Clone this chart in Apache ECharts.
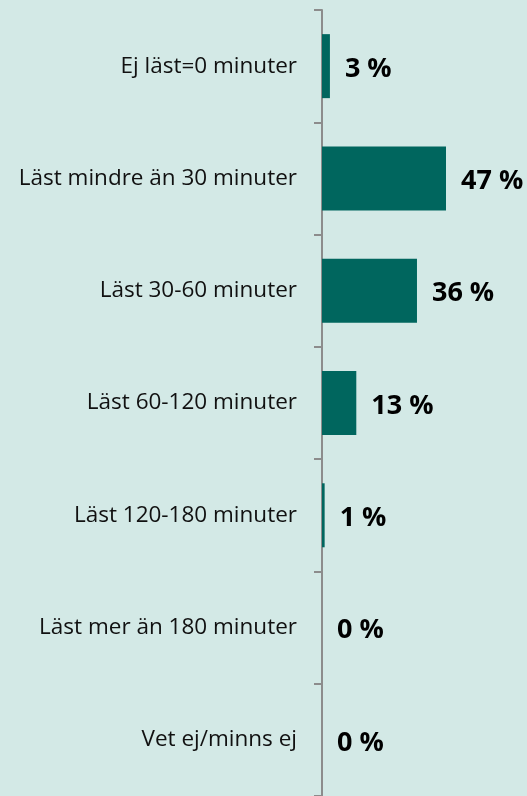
<!DOCTYPE html>
<html><head><meta charset="utf-8">
<script src="https://cdn.jsdelivr.net/npm/echarts@6/dist/echarts.min.js"></script>
<style>html,body{margin:0;padding:0;background:#d3e9e6;}#c{width:527px;height:796px;}</style>
</head><body><div id="c"></div>
<script>
const categories = ["Ej läst=0 minuter","Läst mindre än 30 minuter","Läst 30-60 minuter","Läst 60-120 minuter","Läst 120-180 minuter","Läst mer än 180 minuter","Vet ej/minns ej"];
const values = [3, 47, 36, 13, 1, 0, 0];
const chart = echarts.init(document.getElementById('c'));
chart.setOption({
  backgroundColor: '#d3e9e6',
  animation: false,
  grid: {left: 322, right: 0, top: 10, bottom: 0, containLabel: false},
  xAxis: {type: 'value', min: 0, max: 77.7, show: false},
  yAxis: {
    type: 'category', data: categories, inverse: true,
    axisLine: {lineStyle: {color: '#8c8c8c', width: 2}},
    axisTick: {show: true, length: 8, lineStyle: {color: '#8c8c8c', width: 2}},
    axisLabel: {margin: 25, color: '#111', fontFamily: '"Open Sans", sans-serif', fontSize: 22.5, padding: [6, 0, 0, 0]}
  },
  series: [{
    type: 'bar', data: values, barCategoryGap: '43%',
    itemStyle: {color: '#00665e'},
    label: {show: true, position: 'right', distance: 15, offset: [0, 3], formatter: p => p.value + ' %',
      color: '#000', fontWeight: 'bold', fontSize: 27, fontFamily: '"Open Sans", sans-serif'}
  }]
});
</script></body></html>
